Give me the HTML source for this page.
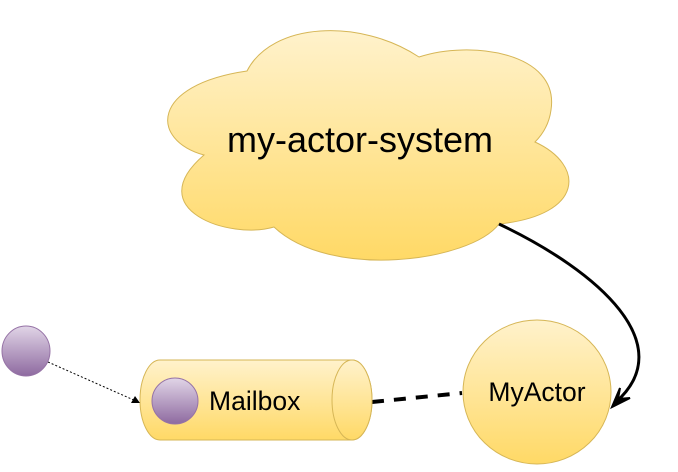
<!DOCTYPE html>
<html><head><meta charset="utf-8"><style>html,body{margin:0;padding:0;background:#fff}</style></head>
<body>
<svg width="678" height="467" viewBox="0 0 678 467" xmlns="http://www.w3.org/2000/svg">
<defs>
<linearGradient id="y" x1="0" y1="0" x2="0" y2="1"><stop offset="0" stop-color="#fff2cc"/><stop offset="1" stop-color="#ffd966"/></linearGradient>
<linearGradient id="p" x1="0" y1="0" x2="0" y2="1"><stop offset="0" stop-color="#e1d5e7"/><stop offset="1" stop-color="#8e6aa0"/></linearGradient>
</defs>
<path d="M247,71 C272,22 360,18 419,57 C470,40 560,52 551,110 C549,125 542,135 535,142 C585,165 585,215 499,224 C470,262 330,280 274,227 C230,240 140,210 204,155 C150,140 150,85 247,71 Z" fill="url(#y)" stroke="#d6b656" stroke-width="1"/>
<text x="360" y="152" font-family="Liberation Sans, sans-serif" font-size="36" text-anchor="middle" fill="#000">my-actor-system</text>
<path d="M499,224 C600,272 680,345 616,402" fill="none" stroke="#000" stroke-width="3"/>
<path d="M612,407 L620,388 L618,399 L630,398 Z" fill="#000" stroke="#000" stroke-width="2"/>
<ellipse cx="537" cy="392" rx="74" ry="72" fill="url(#y)" stroke="#d6b656"/>
<text x="537" y="401" font-family="Liberation Sans, sans-serif" font-size="26.5" text-anchor="middle">MyActor</text>
<line x1="372" y1="402" x2="462" y2="393" stroke="#000" stroke-width="4" stroke-dasharray="12,10"/>
<path d="M160,360 L352,360 A20,40 0 0 1 352,440 L160,440 A20,40 0 0 1 160,360 Z" fill="url(#y)" stroke="#d6b656"/>
<ellipse cx="352" cy="400" rx="20" ry="40" fill="url(#y)" stroke="#d6b656"/>
<circle cx="175" cy="401" r="23" fill="url(#p)" stroke="#9673a6"/>
<text x="209" y="410" font-family="Liberation Sans, sans-serif" font-size="26.5">Mailbox</text>
<line x1="48" y1="362" x2="136" y2="401" stroke="#000" stroke-width="1" stroke-dasharray="2,2"/>
<path d="M140,403 L131,403 L135,396 Z" fill="#000"/>
<ellipse cx="26" cy="351" rx="24" ry="25" fill="url(#p)" stroke="#9673a6"/>
</svg>
</body></html>
